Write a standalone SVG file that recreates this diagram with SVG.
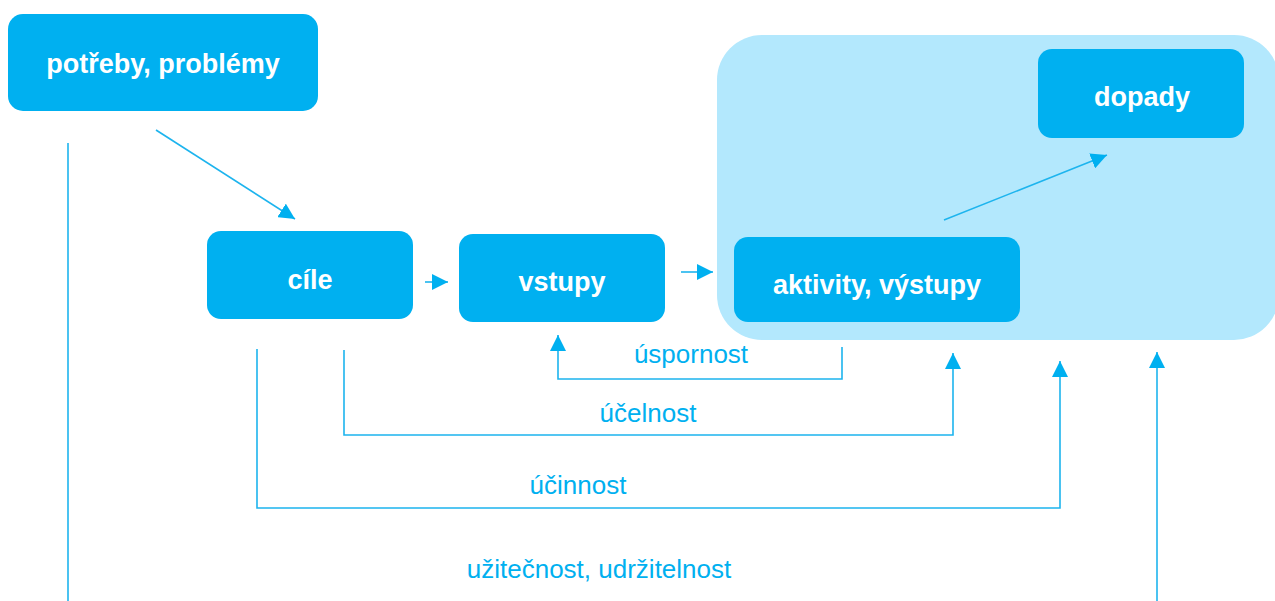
<svg xmlns="http://www.w3.org/2000/svg" width="1275" height="601" viewBox="0 0 1275 601">
<style>
.node{fill:#00b0f0;}
.nt{font-family:"Liberation Sans",Arial,sans-serif;font-weight:bold;font-size:27px;fill:#ffffff;text-anchor:middle;}
.lbl{font-family:"Liberation Sans",Arial,sans-serif;font-size:26px;fill:#00b0f0;text-anchor:middle;}
.c{fill:none;stroke:#1db4ee;stroke-width:1.6;}
</style>
<defs>
<marker id="ah" markerUnits="userSpaceOnUse" markerWidth="16" markerHeight="16" refX="16" refY="8" orient="auto">
<path d="M0,0 L16,8 L0,16 z" fill="#00b0f0"/>
</marker>
</defs>
<rect width="1275" height="601" fill="#ffffff"/>
<g id="group-results">
<rect x="717" y="35" width="562" height="305" rx="45" fill="#b3e8fd"/>
</g>
<g id="node-potreby">
<rect class="node" x="8" y="14" width="310" height="97" rx="15"/>
<text class="nt" x="163" y="73">potřeby, problémy</text>
</g>
<g id="node-cile">
<rect class="node" x="207" y="231" width="206" height="88" rx="14"/>
<text class="nt" x="310" y="289">cíle</text>
</g>
<g id="node-vstupy">
<rect class="node" x="459" y="234" width="206" height="88" rx="14"/>
<text class="nt" x="562" y="291">vstupy</text>
</g>
<g id="node-aktivity">
<rect class="node" x="734" y="237" width="286" height="85" rx="14"/>
<text class="nt" x="877" y="294">aktivity, výstupy</text>
</g>
<g id="node-dopady">
<rect class="node" x="1038" y="49" width="206" height="89" rx="14"/>
<text class="nt" x="1142" y="106">dopady</text>
</g>
<g id="connectors">
<path class="c" d="M156,130 L295,219" marker-end="url(#ah)"/>
<path class="c" d="M425,282 L448,282" marker-end="url(#ah)"/>
<path class="c" d="M681,272 L713,272" marker-end="url(#ah)"/>
<path class="c" d="M944,220 L1107,155" marker-end="url(#ah)"/>
<path class="c" d="M842,347 V379 H558 V335" marker-end="url(#ah)"/>
<path class="c" d="M344,350 V435 H953 V353" marker-end="url(#ah)"/>
<path class="c" d="M257,349 V508 H1060 V361" marker-end="url(#ah)"/>
<path class="c" d="M68,143 V601"/>
<path class="c" d="M1157,601 V352" marker-end="url(#ah)"/>
</g>
<g id="labels">
<text class="lbl" x="691" y="363">úspornost</text>
<text class="lbl" x="648" y="422">účelnost</text>
<text class="lbl" x="578" y="494">účinnost</text>
<text class="lbl" x="599" y="578">užitečnost, udržitelnost</text>
</g>
</svg>
